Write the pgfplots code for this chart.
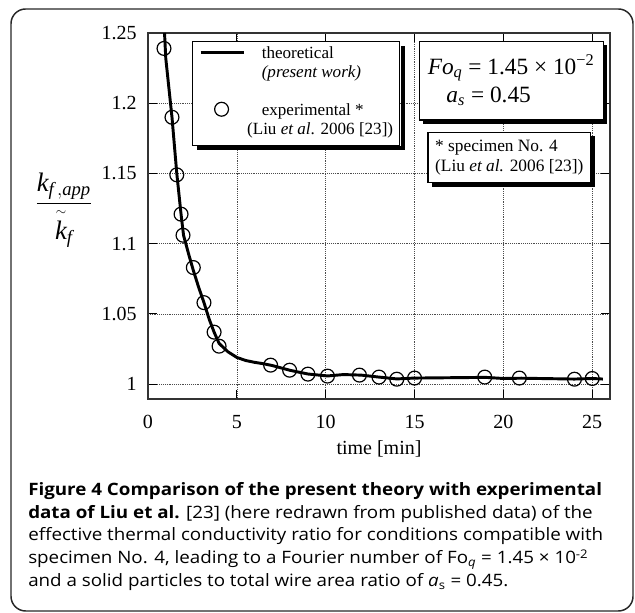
\documentclass[border=0pt]{standalone}
\usepackage{pgfplots}
\pgfplotsset{compat=1.18}
\usepackage{amsmath}
\usepackage{fontspec}
\setmainfont{Liberation Serif}
\newfontfamily\capfont{Open Sans}[FakeStretch=1.10]
\usetikzlibrary{shadows}

\pgfplotsset{
  linelegend/.style={legend image code/.code={\draw[##1] (0cm,0.25em) -- (1.15cm,0.25em);}},
  marklegend/.style={legend image code/.code={\draw[##1] plot coordinates {(0.55cm,0.25em)};}},
}

\pgfplotstableread{
x y
0.93 1.25
1.0 1.232
1.35 1.19
1.62 1.15
1.86 1.121
2.0 1.106
2.3 1.092
2.55 1.081
2.85 1.069
3.15 1.058
3.45 1.046
3.72 1.037
4.0 1.029
4.5 1.023
5.0 1.019
5.5 1.0168
6.0 1.0155
6.5 1.0145
7.0 1.0132
8.0 1.0098
9.0 1.0072
10.1 1.0058
11.0 1.0068
12.0 1.0064
13.0 1.0050
14.0 1.0037
15.0 1.0043
19.0 1.0048
20.0 1.0040
21.0 1.0042
24.0 1.0036
25.0 1.0040
25.6 1.0036
}\theory

\pgfplotstableread{
x y
0.9 1.239
1.35 1.190
1.62 1.149
1.86 1.121
1.97 1.106
2.55 1.083
3.15 1.058
3.72 1.037
4.0 1.027
6.9 1.0135
7.97 1.0099
9.0 1.0071
10.1 1.0057
11.9 1.0064
13.0 1.0050
14.0 1.0035
15.0 1.0043
18.95 1.0050
20.9 1.0043
24.0 1.0035
25.0 1.0040
}\expdata

\begin{document}
\begin{tikzpicture}[x=0.75pt,y=0.75pt]
\useasboundingbox (0,0) rectangle (635,613);
\draw[line width=1.1pt, black!85, rounded corners=11pt] (11,2) rectangle (633,604);
\begin{axis}[
  at={(111pt,160.5pt)}, anchor=south west, scale only axis,
  width=346.5pt, height=274.5pt,
  xmin=0, xmax=26, ymin=0.9894, ymax=1.25,
  xtick={0,5,10,15,20,25}, ytick={1,1.05,1.1,1.15,1.2,1.25},
  tick align=inside, major tick length=7pt,
  grid=major, major grid style={densely dotted, black!70, line width=0.5pt},
  axis line style={line width=0.8pt, black!80},
  every tick/.style={line width=0.8pt, black},
  clip mode=individual,
  /pgf/number format/assume math mode=true,
  tick label style={font=\fontsize{15}{17}\selectfont},
  xticklabel style={yshift=-8.5pt}, yticklabel style={xshift=-5pt},
  xlabel={time [min]},
  xlabel style={font=\fontsize{15}{17}\selectfont, yshift=-2pt},
  legend cell align=left,
  legend style={name=leg, at={(0.0952,0.978)}, anchor=north west, draw=black, line width=0.9pt,
    fill=white, font=\fontsize{12.8}{14}\selectfont,
    inner xsep=5pt, inner ysep=3.5pt, row sep=0pt, column sep=12pt,
    nodes={inner sep=0pt, text height=9.5pt, text depth=4.5pt}},
]
\addplot[black, line width=2.2pt, no marks, linelegend]
  table[x=x,y=y] {\theory};
\addlegendentry{theoretical}
\addlegendimage{empty legend}
\addlegendentry{\textit{(present work)}}
\addlegendimage{empty legend}
\addlegendentry{}
\addplot[only marks, mark=o, mark size=5.2pt,
  mark options={fill=white, draw=black, line width=0.9pt}, marklegend]
  table[x=x,y=y] {\expdata};
\addlegendentry{experimental *}
\addlegendimage{empty legend}
\addlegendentry{\hspace{-11pt}(Liu \textit{et al}. 2006 [23])}

\node[draw=black, line width=0.9pt, fill=white,
  drop shadow={fill=black, opacity=1, shadow xshift=3pt, shadow yshift=-3pt},
  minimum width=138pt, minimum height=59pt, align=left,
  font=\fontsize{17.5}{21}\selectfont]
  at (rel axis cs:0.786,0.870)
  {\textit{Fo}\textsubscript{\textit{q}} = 1.45 × 10\textsuperscript{−2}\\
   \hspace{14pt}\textit{a}\textsubscript{\textit{s}} = 0.45};
\node[draw=black, line width=0.9pt, fill=white,
  drop shadow={fill=black, opacity=1, shadow xshift=3pt, shadow yshift=-3pt},
  minimum width=122pt, minimum height=38pt, align=left,
  font=\fontsize{13}{15}\selectfont]
  at (rel axis cs:0.782,0.660)
  {* specimen No. 4\\(Liu \textit{et al.} 2006 [23])};
\node at (rel axis cs:-0.182,0.516)
  {\fontsize{20}{23}\selectfont$\displaystyle\frac{\mathit{k}_{\mathit{f\,,app}}\rule[-0.3em]{0pt}{0pt}}{\overset{\scriptscriptstyle\sim}{\mathit{k}}_{\mathit{f}}}$};
\end{axis}
% shadow strips of the legend box
\fill[black] ([shift={(0.45pt,-3.4pt)}]leg.north east) rectangle ([shift={(3.4pt,-3.4pt)}]leg.south east);
\fill[black] ([shift={(3.4pt,-0.45pt)}]leg.south west) rectangle ([shift={(3.4pt,-3.4pt)}]leg.south east);
\begin{scope}[every node/.style={anchor=base west, inner sep=0pt, font=\capfont\fontsize{12.8}{14}\selectfont}]
\node at (28,117) {\bfseries Figure 4 Comparison of the present theory with experimental};
\node at (28,94) {\textbf{data of Liu et al.} [23] (here redrawn from published data) of the};
\node at (28,72) {effective thermal conductivity ratio for conditions compatible with};
\node at (28,49) {specimen No. 4, leading to a Fourier number of Fo\textsubscript{\textit{q}} = 1.45 × 10\textsuperscript{-2}};
\node at (28,26) {and a solid particles to total wire area ratio of \textit{a}\textsubscript{s} = 0.45.};
\end{scope}
\end{tikzpicture}
\end{document}
